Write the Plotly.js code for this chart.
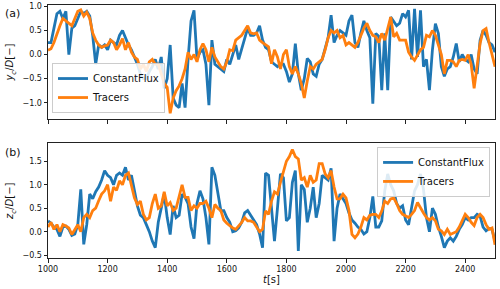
<!DOCTYPE html>
<html><head><meta charset="utf-8">
<script src="https://cdn.plot.ly/plotly-3.0.1.min.js"></script>
<style>body{margin:0;padding:0;background:#fff}#plot{width:500px;height:289px}</style>
</head><body><div id="plot"></div>
<script>
// time samples [s]
const time = [
1000,1010,1020,1030,1040,1050,1060,1070,1080,1090,
1100,1110,1120,1130,1140,1150,1160,1170,1180,1190,
1200,1210,1220,1230,1240,1250,1260,1270,1280,1290,
1300,1310,1320,1330,1340,1350,1360,1370,1380,1390,
1400,1410,1420,1430,1440,1450,1460,1470,1480,1490,
1500,1510,1520,1530,1540,1550,1560,1570,1580,1590,
1600,1610,1620,1630,1640,1650,1660,1670,1680,1690,
1700,1710,1720,1730,1740,1750,1760,1770,1780,1790,
1800,1810,1820,1830,1840,1850,1860,1870,1880,1890,
1900,1910,1920,1930,1940,1950,1960,1970,1980,1990,
2000,2010,2020,2030,2040,2050,2060,2070,2080,2090,
2100,2110,2120,2130,2140,2150,2160,2170,2180,2190,
2200,2210,2220,2230,2240,2250,2260,2270,2280,2290,
2300,2310,2320,2330,2340,2350,2360,2370,2380,2390,
2400,2410,2420,2430,2440,2450,2460,2470,2480,2490,
2500];

// panel (a): y_c/D
const ycConstantFlux = [
0.25,0.25,0.55,0.85,0.9,0.75,0.9,0.0,0.55,0.6,
0.75,0.9,0.85,0.9,0.8,0.4,-0.2,0.2,0.15,0.2,
0.1,0.3,0.25,0.2,0.4,0.5,0.35,0.2,0.1,-0.05,
-0.2,-0.4,-0.5,-0.5,-0.35,-0.25,-0.1,-0.3,-0.05,-0.7,
-0.5,0.2,-0.9,-1.05,-1.1,-0.6,-1.1,-0.1,0.7,0.92,
-0.1,0.05,0.1,-0.2,-1.05,0.3,-0.2,-0.25,-0.3,-0.35,
-0.1,-0.2,0.0,0.2,-0.1,0.1,0.3,0.55,0.4,0.4,
0.45,0.6,0.3,0.15,0.1,-0.15,-0.2,-0.25,-0.2,-0.2,
-0.35,-0.57,-0.4,0.23,-0.4,-0.74,-0.5,-0.08,-0.15,-0.4,
-0.45,-0.2,-0.1,0.1,0.35,0.82,0.25,0.4,0.5,0.45,
0.4,0.7,0.82,0.25,0.15,0.45,0.7,0.5,0.35,-1.02,
0.44,0.38,-0.74,0.44,-0.74,0.78,0.7,0.6,0.65,0.85,
0.78,0.92,-0.1,0.95,-0.05,0.92,-0.25,-0.1,-0.74,0.1,
0.64,0.44,-0.25,-0.45,-0.3,-0.25,-0.05,0.23,-0.15,0.0,
-0.1,-0.15,0.0,-0.3,-0.4,0.3,0.5,0.4,0.25,0.2,
0.05];
const ycTracers = [
0.09,0.12,0.25,0.44,0.6,0.75,0.7,0.65,0.6,0.75,
0.9,0.93,0.8,0.88,0.75,0.45,0.3,0.2,0.15,0.18,
0.2,0.3,0.25,0.1,0.2,0.33,0.1,0.25,0.05,-0.05,
-0.1,-0.3,-0.2,-0.35,-0.15,-0.1,-0.2,-0.2,-0.4,-0.6,
-0.68,-1.22,-0.9,-0.75,-0.65,-0.5,-0.3,0.05,-0.1,0.0,
-0.15,0.1,0.23,0.1,-0.15,0.15,-0.05,-0.15,-0.25,-0.3,
-0.15,0.1,0.08,0.3,0.35,0.4,0.5,0.6,0.45,0.43,
0.45,0.3,0.25,0.2,0.16,-0.19,0.1,-0.05,-0.3,0.0,
0.1,-0.25,-0.4,-0.25,-0.4,-0.6,-0.9,-0.55,-0.25,-0.3,
-0.2,-0.15,-0.1,0.1,0.35,0.5,0.45,0.5,0.35,0.4,
0.2,0.25,0.2,0.15,0.25,0.4,0.55,0.65,0.5,0.4,
0.37,0.25,0.44,0.3,0.55,0.78,0.37,0.44,0.3,0.3,
0.3,0.05,-0.05,-0.12,0.0,0.1,0.15,0.4,0.37,0.5,
0.4,0.2,0.0,-0.4,-0.12,-0.12,-0.15,-0.25,-0.12,-0.1,
-0.12,0.0,-0.2,-0.7,-0.25,0.23,0.5,0.54,0.25,0.0,
-0.25];

// panel (b): z_c/D
const zcConstantFlux = [
0.23,0.18,0.1,0.05,-0.1,0.1,0.12,0.05,-0.08,-0.05,
0.15,0.9,-0.27,0.15,0.8,0.7,0.85,0.95,1.1,1.3,
1.2,1.15,1.0,1.2,1.25,1.2,1.37,1.1,1.2,0.85,
0.55,0.35,0.3,0.15,0.0,-0.2,-0.34,0.2,0.5,0.8,
0.3,-0.06,0.55,0.3,0.35,0.8,0.73,0.6,0.1,-0.15,
0.6,0.87,0.7,0.3,-0.27,1.37,1.2,0.85,0.45,0.45,
0.3,0.2,0.0,0.02,0.08,0.2,0.4,0.45,0.35,0.25,
0.15,-0.05,-0.34,1.25,1.2,0.5,-0.2,0.5,1.23,1.15,
0.23,0.3,1.05,1.3,-0.41,1.0,0.9,0.2,0.5,0.95,
0.3,0.6,1.2,1.15,1.1,1.35,-0.2,0.5,0.8,0.7,
0.6,0.4,0.25,0.18,0.1,0.05,-0.05,0.0,0.3,0.75,
0.1,0.1,0.23,0.87,1.23,1.0,0.87,0.6,0.5,0.55,
0.25,0.15,0.5,0.87,1.0,1.23,0.9,0.3,0.0,0.5,
0.37,0.1,-0.1,-0.34,-0.2,-0.13,-0.2,-0.1,0.05,0.15,
0.3,0.25,0.3,0.3,0.37,0.33,0.1,0.02,0.07,0.05,
-0.2];
const zcTracers = [
0.1,0.2,0.05,0.15,0.0,0.15,0.12,0.08,-0.06,0.05,
0.15,0.0,0.3,0.37,0.3,0.45,0.5,0.66,0.8,0.87,
1.0,0.65,0.95,0.88,1.08,1.0,1.2,1.25,1.0,0.72,
0.58,0.65,0.37,0.25,0.3,0.6,0.8,0.5,0.55,0.85,
0.55,0.62,0.45,0.5,0.75,1.0,0.73,0.73,0.45,0.55,
0.5,0.6,0.6,0.65,0.5,0.3,0.58,0.5,0.45,0.25,
0.18,0.12,0.08,0.05,0.12,0.2,0.3,0.23,0.23,0.2,
0.1,0.0,0.05,0.44,0.37,0.65,0.85,0.8,1.05,1.3,
1.5,1.6,1.75,1.6,1.55,1.1,1.15,0.95,1.2,1.05,
1.1,1.45,1.45,1.23,1.15,1.3,0.95,0.7,0.7,0.8,
0.72,0.45,-0.06,-0.13,-0.05,0.1,0.3,0.25,0.35,0.37,
0.37,0.3,0.44,0.65,0.6,0.7,0.72,0.6,0.45,0.37,
0.33,0.3,0.37,0.45,0.62,0.5,0.4,0.3,0.25,0.3,
0.23,0.05,0.02,-0.06,0.05,-0.06,-0.03,0.0,0.1,0.23,
0.37,0.3,0.2,0.13,0.3,0.37,0.3,0.15,0.05,0.08,
-0.28];

const seriesNames = ['ConstantFlux', 'Tracers'];
const xTicks = [1000,1200,1400,1600,1800,2000,2200,2400];
const yTicksA = [-1.0,-0.5,0.0,0.5,1.0];
const yTicksB = [-0.5,0.0,0.5,1.0,1.5];

const BLUE = '#1f77b4', ORANGE = '#ff7f0e';
const FONT = 'DejaVu Sans, sans-serif';
const LW = 2.8;

const traces = [
  {x: time, y: ycConstantFlux, name: seriesNames[0], xaxis: 'x', yaxis: 'y', mode: 'lines', line: {color: BLUE, width: LW}, legend: 'legend'},
  {x: time, y: ycTracers, name: seriesNames[1], xaxis: 'x', yaxis: 'y', mode: 'lines', line: {color: ORANGE, width: LW}, legend: 'legend'},
  {x: time, y: zcConstantFlux, name: seriesNames[0], xaxis: 'x2', yaxis: 'y2', mode: 'lines', line: {color: BLUE, width: LW}, legend: 'legend2'},
  {x: time, y: zcTracers, name: seriesNames[1], xaxis: 'x2', yaxis: 'y2', mode: 'lines', line: {color: ORANGE, width: LW}, legend: 'legend2'}
];

const axCommon = {
  showgrid: false, zeroline: false, showline: true, mirror: true,
  linecolor: '#222', linewidth: 1, ticks: 'outside', ticklen: 3.5, tickwidth: 1, tickcolor: '#222',
  tickfont: {family: FONT, size: 8, color: '#111'}
};

const legendCommon = {
  bgcolor: 'rgba(255,255,255,0.85)', bordercolor: '#cccccc', borderwidth: 1,
  font: {family: FONT, size: 10, color: '#111'}, tracegroupgap: 0, itemwidth: 30
};

const layout = {
  width: 500, height: 289,
  margin: {l: 48, r: 5, t: 5, b: 31},
  paper_bgcolor: '#fff', plot_bgcolor: '#fff',
  font: {family: FONT, color: '#111'},
  xaxis: Object.assign({}, axCommon, {domain: [0, 1], anchor: 'y', range: [1000, 2500], tickvals: xTicks, showticklabels: false}),
  yaxis: Object.assign({}, axCommon, {domain: [0.549, 1], anchor: 'x', range: [-1.34, 1.03], tickvals: yTicksA, tickformat: '.1f',
    title: {text: '<i>y</i><sub><i>c</i></sub>/<i>D</i>[−]', font: {family: FONT, size: 10}, standoff: 6}}),
  xaxis2: Object.assign({}, axCommon, {domain: [0, 1], anchor: 'y2', range: [1000, 2500], tickvals: xTicks,
    title: {text: '<i>t</i>[s]', font: {family: FONT, size: 10}, standoff: 2}}),
  yaxis2: Object.assign({}, axCommon, {domain: [0, 0.453], anchor: 'x2', range: [-0.56, 1.88], tickvals: yTicksB, tickformat: '.1f',
    title: {text: '<i>z</i><sub><i>c</i></sub>/<i>D</i>[−]', font: {family: FONT, size: 10}, standoff: 6}}),
  legend: Object.assign({}, legendCommon, {x: 0.009, y: 0.573, xanchor: 'left', yanchor: 'bottom'}),
  legend2: Object.assign({}, legendCommon, {x: 0.989, y: 0.439, xanchor: 'right', yanchor: 'top'}),
  showlegend: true,
  annotations: [
    {text: '(a)', xref: 'paper', yref: 'paper', x: -0.1, y: 1.0, xanchor: 'left', yanchor: 'top', showarrow: false, font: {family: FONT, size: 11, color: '#111'}},
    {text: '(b)', xref: 'paper', yref: 'paper', x: -0.1, y: 0.45, xanchor: 'left', yanchor: 'top', showarrow: false, font: {family: FONT, size: 11, color: '#111'}}
  ]
};

Plotly.newPlot('plot', traces, layout, {displayModeBar: false, staticPlot: true});
</script>
</body></html>
